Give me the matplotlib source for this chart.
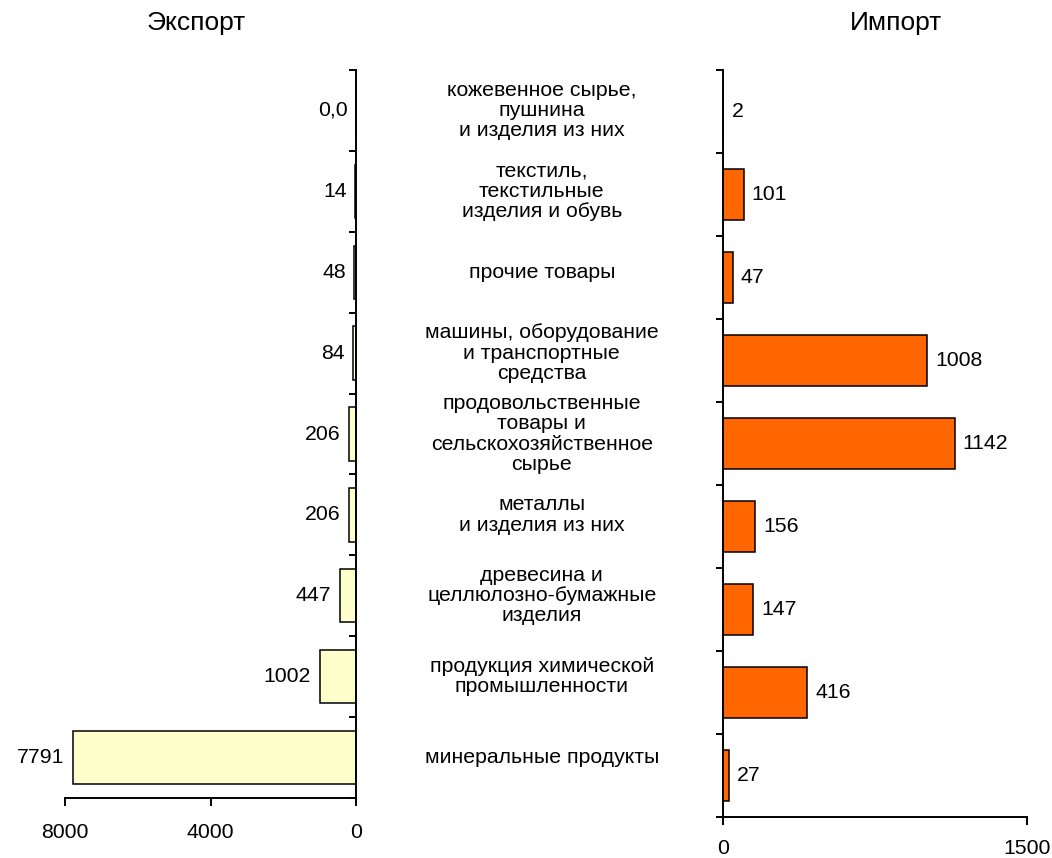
import matplotlib
matplotlib.use("Agg")
import matplotlib.pyplot as plt
import matplotlib.transforms as mtransforms
import numpy as np

plt.rcParams["font.family"] = ["Liberation Sans", "DejaVu Sans"]

# categories from bottom to top
categories = [
    "минеральные продукты",
    "продукция химической\nпромышленности",
    "древесина и\nцеллюлозно-бумажные\nизделия",
    "металлы\nи изделия из них",
    "продовольственные\nтовары и\nсельскохозяйственное\nсырье",
    "машины, оборудование\nи транспортные\nсредства",
    "прочие товары",
    "текстиль,\nтекстильные\nизделия и обувь",
    "кожевенное сырье,\nпушнина\nи изделия из них",
]
export_vals = [7791, 1002, 447, 206, 206, 84, 48, 14, 0.0]
export_labels = ["7791", "1002", "447", "206", "206", "84", "48", "14", "0,0"]
import_vals = [27, 416, 147, 156, 1142, 1008, 47, 101, 2]
import_labels = ["27", "416", "147", "156", "1142", "1008", "47", "101", "2"]

export_color = "#FFFFCC"
import_color = "#FF6600"
fs = 15.3

fig = plt.figure(figsize=(10.52, 8.58), dpi=100)
ax1 = fig.add_axes([0.0618, 0.0699, 0.2766, 0.8485])
ax2 = fig.add_axes([0.6873, 0.0478, 0.2890, 0.8706])

y = np.arange(len(categories))
bounds = np.arange(len(categories) + 1) - 0.5

# export (left)
ax1.barh(y, export_vals, height=0.66, color=export_color, edgecolor="black", linewidth=1.1)
ax1.set_xlim(8000, 0)
ax1.set_ylim(-0.5, len(categories) - 0.5)
ax1.set_xticks([8000, 4000, 0])
ax1.set_xticklabels(["8000", "4000", "0"])
ax1.set_yticks(bounds)
ax1.set_yticklabels([])
ax1.yaxis.tick_right()
ax1.tick_params(axis="y", direction="in", length=5, width=1.4)
ax1.tick_params(axis="x", direction="out", length=6, width=1.4, labelsize=fs, pad=12)
for s in ["top", "left"]:
    ax1.spines[s].set_visible(False)
for s in ["right", "bottom"]:
    ax1.spines[s].set_linewidth(1.4)
for yi, v, lab in zip(y, export_vals, export_labels):
    ax1.annotate(lab, (v, yi), xytext=(-6, 0), textcoords="offset points",
                 ha="right", va="center", fontsize=fs)

# import (right)
ax2.barh(y, import_vals, height=0.62, color=import_color, edgecolor="black", linewidth=1.1)
ax2.set_xlim(0, 1500)
ax2.set_ylim(-0.5, len(categories) - 0.5)
ax2.set_xticks([0, 1500])
ax2.set_xticklabels(["0", "1500"])
ax2.set_yticks(bounds)
ax2.set_yticklabels([])
ax2.tick_params(axis="y", direction="out", length=5, width=1.4)
ax2.tick_params(axis="x", direction="out", length=6, width=1.4, labelsize=fs, pad=9.5)
for s in ["top", "right"]:
    ax2.spines[s].set_visible(False)
for s in ["left", "bottom"]:
    ax2.spines[s].set_linewidth(1.4)
for yi, v, lab in zip(y, import_vals, import_labels):
    ax2.annotate(lab, (v, yi), xytext=(6, 0), textcoords="offset points",
                 ha="left", va="center", fontsize=fs)

# titles
fig.text(196 / 1052, 1 - 23 / 858, "Экспорт", ha="center", va="center", fontsize=19)
fig.text(896 / 1052, 1 - 23 / 858, "Импорт", ha="center", va="center", fontsize=19)

# category names in the middle, aligned with the export rows
trans = mtransforms.blended_transform_factory(fig.transFigure, ax1.transData)
for yi, name in zip(y, categories):
    fig.text(0.515, yi, name, transform=trans, ha="center", va="center",
             fontsize=fs, linespacing=1.08)

fig.savefig("out.png", dpi=100)
